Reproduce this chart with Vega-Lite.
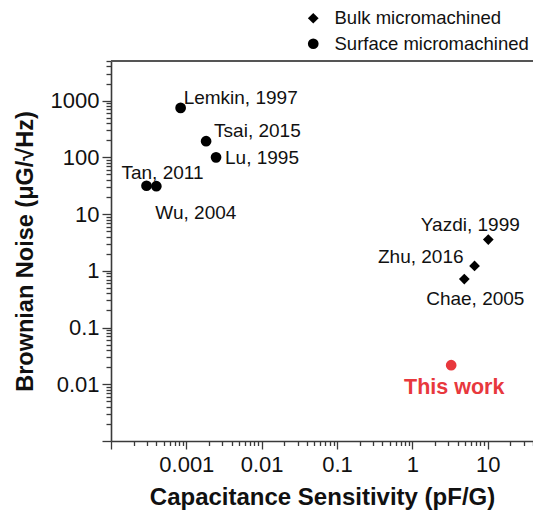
{
  "$schema": "https://vega.github.io/schema/vega-lite/v6.json",
  "width": 422,
  "height": 380,
  "autosize": {"type": "none"},
  "padding": {"left": 111, "top": 61, "right": 0, "bottom": 75},
  "config": {
    "view": {"stroke": null},
    "font": "Liberation Sans",
    "axis": {
      "domainColor": "#3a3a3a",
      "domainWidth": 1.6,
      "tickColor": "#3a3a3a",
      "tickWidth": 1.3,
      "labelFont": "Liberation Sans",
      "labelFontSize": 22,
      "labelColor": "#111",
      "titleFont": "Liberation Sans",
      "titleFontSize": 24,
      "titleFontWeight": "bold",
      "titleColor": "#111",
      "grid": false,
      "labelOverlap": false,
      "labelFlush": false,
      "labelBound": false
    }
  },
  "datasets": {
    "pts": [
      {"x": 0.00084, "y": 745, "type": "Surface micromachined", "label": "Lemkin, 1997"},
      {"x": 0.00183, "y": 193, "type": "Surface micromachined", "label": "Tsai, 2015"},
      {"x": 0.00248, "y": 100, "type": "Surface micromachined", "label": "Lu, 1995"},
      {"x": 0.000296, "y": 31.6, "type": "Surface micromachined", "label": "Tan, 2011"},
      {"x": 0.0004, "y": 31, "type": "Surface micromachined", "label": "Wu, 2004"},
      {"x": 10.2, "y": 3.56, "type": "Bulk micromachined", "label": "Yazdi, 1999"},
      {"x": 6.7, "y": 1.22, "type": "Bulk micromachined", "label": "Zhu, 2016"},
      {"x": 4.9, "y": 0.716, "type": "Bulk micromachined", "label": "Chae, 2005"},
      {"x": 3.28, "y": 0.0217, "type": "This work", "label": "This work"}
    ],
    "frame": [
      {"top": 4990},
      {"top": 4995}
    ]
  },
  "data": {"name": "pts"},
  "layer": [
    {
      "data": {"name": "frame"},
      "mark": {"type": "rule", "color": "#555", "strokeWidth": 2},
      "encoding": {
        "y": {"field": "top", "type": "quantitative", "scale": {"type": "log", "domain": [0.001, 5000], "nice": false}}
      }
    },
    {
      "transform": [{"filter": "datum.type != 'This work'"}],
      "mark": {"type": "point", "filled": true, "color": "#000", "opacity": 1, "size": 115},
      "encoding": {
        "x": {
          "field": "x", "type": "quantitative",
          "scale": {"type": "log", "domain": [0.0001, 40], "nice": false},
          "axis": {
            "title": "Capacitance Sensitivity (pF/G)",
            "values": [0.0001,0.0002,0.0003,0.0004,0.0005,0.0006,0.0007,0.0008,0.0009,0.001,0.002,0.003,0.004,0.005,0.006,0.007,0.008,0.009,0.01,0.02,0.03,0.04,0.05,0.06,0.07,0.08,0.09,0.1,0.2,0.3,0.4,0.5,0.6,0.7,0.8,0.9,1,2,3,4,5,6,7,8,9,10,20,30,40],
            "tickSize": {"condition": {"test": "abs(log(datum.value)/LN10 - round(log(datum.value)/LN10)) < 1e-6", "value": 8}, "value": 4.5},
            "labelExpr": "abs(log(datum.value)/LN10 - round(log(datum.value)/LN10)) < 1e-6 && datum.value > 0.0002 ? format(datum.value, '~g') : ''",
            "labelPadding": 5,
            "titlePadding": 10
          }
        },
        "y": {
          "field": "y", "type": "quantitative",
          "axis": {
            "title": "Brownian Noise (μG/√Hz)",
            "values": [0.001,0.002,0.003,0.004,0.005,0.006,0.007,0.008,0.009,0.01,0.02,0.03,0.04,0.05,0.06,0.07,0.08,0.09,0.1,0.2,0.3,0.4,0.5,0.6,0.7,0.8,0.9,1,2,3,4,5,6,7,8,9,10,20,30,40,50,60,70,80,90,100,200,300,400,500,600,700,800,900,1000,2000,3000,4000,5000],
            "tickSize": {"condition": {"test": "abs(log(datum.value)/LN10 - round(log(datum.value)/LN10)) < 1e-6", "value": 9}, "value": 5},
            "labelExpr": "abs(log(datum.value)/LN10 - round(log(datum.value)/LN10)) < 1e-6 && datum.value > 0.002 ? format(datum.value, '~g') : ''",
            "labelPadding": 3,
            "titlePadding": 13,
            "titleFontSize": 23.5
          }
        },
        "shape": {
          "field": "type", "type": "nominal",
          "scale": {"domain": ["Bulk micromachined", "Surface micromachined"], "range": ["diamond", "circle"]},
          "legend": {
            "title": null, "orient": "none", "legendX": 193, "legendY": -52,
            "labelFont": "Liberation Sans", "labelFontSize": 18.5, "labelColor": "#111", "labelLimit": 0,
            "symbolSize": 115, "symbolFillColor": "#000", "symbolStrokeColor": "#000",
            "labelOffset": 12, "rowPadding": 6.5, "padding": 0
          }
        }
      }
    },
    {
      "transform": [{"filter": "datum.type == 'This work'"}],
      "mark": {"type": "circle", "color": "#e8383d", "opacity": 1, "size": 115},
      "encoding": {"x": {"field": "x", "type": "quantitative"}, "y": {"field": "y", "type": "quantitative"}}
    },
    {
      "transform": [{"filter": "datum.label == 'Lemkin, 1997'"}],
      "mark": {"type": "text", "align": "left", "baseline": "middle", "dx": 3, "dy": -10, "fontSize": 19, "color": "#111"},
      "encoding": {"x": {"field": "x", "type": "quantitative"}, "y": {"field": "y", "type": "quantitative"}, "text": {"field": "label"}}
    },
    {
      "transform": [{"filter": "datum.label == 'Tsai, 2015'"}],
      "mark": {"type": "text", "align": "left", "baseline": "middle", "dx": 8, "dy": -10, "fontSize": 19, "color": "#111"},
      "encoding": {"x": {"field": "x", "type": "quantitative"}, "y": {"field": "y", "type": "quantitative"}, "text": {"field": "label"}}
    },
    {
      "transform": [{"filter": "datum.label == 'Lu, 1995'"}],
      "mark": {"type": "text", "align": "left", "baseline": "middle", "dx": 9, "dy": 1, "fontSize": 19, "color": "#111"},
      "encoding": {"x": {"field": "x", "type": "quantitative"}, "y": {"field": "y", "type": "quantitative"}, "text": {"field": "label"}}
    },
    {
      "transform": [{"filter": "datum.label == 'Tan, 2011'"}],
      "mark": {"type": "text", "align": "center", "baseline": "middle", "dx": 16, "dy": -12.5, "fontSize": 19, "color": "#111"},
      "encoding": {"x": {"field": "x", "type": "quantitative"}, "y": {"field": "y", "type": "quantitative"}, "text": {"field": "label"}}
    },
    {
      "transform": [{"filter": "datum.label == 'Wu, 2004'"}],
      "mark": {"type": "text", "align": "left", "baseline": "middle", "dx": -1, "dy": 27, "fontSize": 19, "color": "#111"},
      "encoding": {"x": {"field": "x", "type": "quantitative"}, "y": {"field": "y", "type": "quantitative"}, "text": {"field": "label"}}
    },
    {
      "transform": [{"filter": "datum.label == 'Yazdi, 1999'"}],
      "mark": {"type": "text", "align": "center", "baseline": "middle", "dx": -18, "dy": -15, "fontSize": 19, "color": "#111"},
      "encoding": {"x": {"field": "x", "type": "quantitative"}, "y": {"field": "y", "type": "quantitative"}, "text": {"field": "label"}}
    },
    {
      "transform": [{"filter": "datum.label == 'Zhu, 2016'"}],
      "mark": {"type": "text", "align": "right", "baseline": "middle", "dx": -11, "dy": -9, "fontSize": 19, "color": "#111"},
      "encoding": {"x": {"field": "x", "type": "quantitative"}, "y": {"field": "y", "type": "quantitative"}, "text": {"field": "label"}}
    },
    {
      "transform": [{"filter": "datum.label == 'Chae, 2005'"}],
      "mark": {"type": "text", "align": "center", "baseline": "middle", "dx": 11, "dy": 20, "fontSize": 19, "color": "#111"},
      "encoding": {"x": {"field": "x", "type": "quantitative"}, "y": {"field": "y", "type": "quantitative"}, "text": {"field": "label"}}
    },
    {
      "transform": [{"filter": "datum.label == 'This work'"}],
      "mark": {"type": "text", "align": "center", "baseline": "middle", "dx": 3, "dy": 23, "fontSize": 21.5, "fontWeight": "bold", "color": "#e8383d"},
      "encoding": {"x": {"field": "x", "type": "quantitative"}, "y": {"field": "y", "type": "quantitative"}, "text": {"field": "label"}}
    }
  ]
}
